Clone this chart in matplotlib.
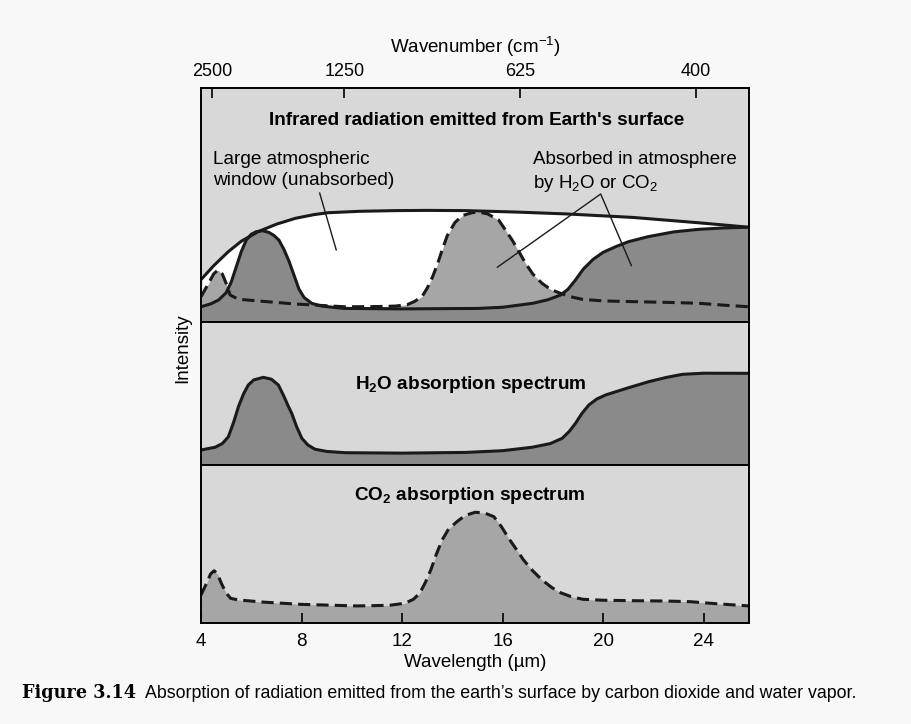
import matplotlib
matplotlib.use('agg')
import matplotlib.pyplot as plt

plt.rcParams['font.family'] = ['Liberation Sans', 'DejaVu Sans']
plt.rcParams['mathtext.fontset'] = 'custom'
plt.rcParams['mathtext.rm'] = 'Liberation Sans'
plt.rcParams['mathtext.bf'] = 'Liberation Sans:bold'
plt.rcParams['mathtext.it'] = 'Liberation Sans:italic'

# top panel: emitted radiation envelope (intensity, panel fraction)
env_um = [4.05, 4.5, 5.08, 5.6, 6.27, 7.0, 7.75, 8.5, 9.06, 10.3, 11.73, 13.0,
          14.52, 16.5, 18.5, 21.17, 23.8, 25.8]
env_val = [0.187, 0.24, 0.300, 0.345, 0.386, 0.418, 0.443, 0.459, 0.467, 0.473,
           0.476, 0.477, 0.476, 0.470, 0.462, 0.447, 0.424, 0.405]

# top panel: H2O absorption (solid)
h2o_top_um = [4.0, 4.4, 4.7, 5.0, 5.2, 5.4, 5.6, 5.8, 6.0, 6.2, 6.45, 6.7, 6.9,
              7.1, 7.3, 7.5, 7.7, 7.9, 8.1, 8.4, 8.8, 9.7, 12.0, 15.0, 16.0,
              17.2, 17.8, 18.3, 18.6, 18.9, 19.2, 19.6, 20.0, 20.5, 21.0, 21.8,
              22.8, 23.8, 24.8, 25.8]
h2o_top_val = [0.065, 0.078, 0.094, 0.125, 0.17, 0.235, 0.30, 0.35, 0.375,
               0.386, 0.390, 0.383, 0.37, 0.35, 0.31, 0.26, 0.20, 0.14, 0.105,
               0.08, 0.068, 0.058, 0.056, 0.058, 0.063, 0.080, 0.095, 0.115,
               0.14, 0.18, 0.225, 0.268, 0.298, 0.322, 0.343, 0.365, 0.385,
               0.396, 0.402, 0.405]

# top panel: CO2 absorption (dashed)
co2_top_um = [4.0, 4.3, 4.5, 4.67, 4.85, 5.0, 5.16, 5.5, 6.5, 7.75, 9.74, 11.0,
              11.73, 12.2, 12.5, 12.8, 13.0, 13.2, 13.4, 13.6, 13.8, 14.1, 14.4,
              14.78, 15.05, 15.4, 15.84, 16.1, 16.38, 16.65, 16.91, 17.2, 17.57,
              17.9, 18.24, 18.7, 19.17, 20.0, 21.16, 22.5, 23.81, 24.8, 25.8]
co2_top_val = [0.108, 0.165, 0.205, 0.222, 0.205, 0.165, 0.115, 0.097, 0.088,
               0.077, 0.065, 0.066, 0.068, 0.074, 0.088, 0.11, 0.145, 0.19,
               0.245, 0.31, 0.37, 0.425, 0.455, 0.467, 0.470, 0.462, 0.436,
               0.395, 0.350, 0.30, 0.251, 0.205, 0.165, 0.14, 0.125, 0.108,
               0.097, 0.09, 0.087, 0.084, 0.080, 0.072, 0.065]

# middle panel: H2O absorption spectrum
h2o_um = [4.0, 4.56, 4.85, 5.09, 5.3, 5.49, 5.7, 5.88, 6.1, 6.48, 6.8, 7.08,
          7.3, 7.45, 7.61, 7.8, 8.01, 8.25, 8.54, 9.0, 9.74, 12.0, 14.52, 16.0,
          17.17, 17.9, 18.37, 18.65, 18.9, 19.15, 19.43, 19.75, 20.1, 21.0,
          21.82, 22.5, 23.15, 24.0, 25.8]
h2o_val = [0.105, 0.124, 0.15, 0.198, 0.30, 0.408, 0.50, 0.559, 0.595, 0.613,
           0.60, 0.559, 0.48, 0.42, 0.361, 0.27, 0.187, 0.14, 0.110, 0.095,
           0.086, 0.083, 0.088, 0.10, 0.124, 0.15, 0.187, 0.235, 0.292, 0.36,
           0.420, 0.462, 0.490, 0.54, 0.583, 0.612, 0.634, 0.642, 0.641]

# bottom panel: CO2 absorption spectrum
co2_um = [4.0, 4.22, 4.38, 4.52, 4.66, 4.81, 5.0, 5.18, 5.48, 6.5, 7.98, 10.2,
          11.5, 12.11, 12.45, 12.7, 12.92, 13.14, 13.35, 13.59, 13.85, 14.18,
          14.5, 14.91, 15.3, 15.65, 15.95, 16.24, 16.55, 16.83, 17.2, 17.57,
          17.95, 18.3, 18.7, 19.19, 20.0, 21.25, 22.5, 23.46, 24.5, 25.8]
co2_val = [0.177, 0.251, 0.31, 0.331, 0.31, 0.251, 0.19, 0.156, 0.146, 0.132,
           0.118, 0.108, 0.112, 0.125, 0.15, 0.188, 0.255, 0.335, 0.43, 0.525,
           0.595, 0.641, 0.68, 0.701, 0.695, 0.673, 0.61, 0.536, 0.465, 0.399,
           0.33, 0.272, 0.225, 0.192, 0.168, 0.150, 0.144, 0.141, 0.139, 0.135,
           0.122, 0.108]

wl_ticks = [4, 8, 12, 16, 20, 24]
wn_tick_pos = [4.45, 9.7, 16.7, 23.7]
wn_tick_labels = ['2500', '1250', '625', '400']

bg = '#d8d8d8'
dark = '#8a8a8a'
mid = '#a6a6a6'
dash = (0, (4, 2))

fig = plt.figure(figsize=(9.12, 7.24), dpi=100, facecolor='#f8f8f8')
gs = fig.add_gridspec(3, 1, height_ratios=[234, 143, 158], hspace=0,
                      left=201/912, right=749/912, top=1-88/724, bottom=1-623/724)
ax1 = fig.add_subplot(gs[0])
ax2 = fig.add_subplot(gs[1])
ax3 = fig.add_subplot(gs[2])

for ax in (ax1, ax2, ax3):
    ax.set_facecolor(bg)
    ax.set_xlim(4, 25.8)
    ax.set_ylim(0, 1)
    ax.set_yticks([])
    for s in ax.spines.values():
        s.set_linewidth(1.4)

# Top panel
ax1.fill_between(env_um, 0, env_val, color='white', lw=0)
ax1.fill_between(co2_top_um, 0, co2_top_val, color=mid, lw=0)
ax1.fill_between(h2o_top_um, 0, h2o_top_val, color=dark, lw=0)
ax1.plot(co2_top_um, co2_top_val, color='#1a1a1a', lw=2.2, linestyle=dash)
ax1.plot(h2o_top_um, h2o_top_val, color='#1a1a1a', lw=2.2)
ax1.plot(env_um, env_val, color='#1a1a1a', lw=2.2)

ax1.xaxis.tick_top()
ax1.xaxis.set_label_position('top')
ax1.set_xticks(wn_tick_pos, wn_tick_labels)
ax1.tick_params(direction='in', length=7, width=1.2, labelsize=13, pad=6)
ax1.set_xlabel('Wavenumber (cm$^{-1}$)', fontsize=13.5, labelpad=7)

ax1.text(0.503, 0.863, "Infrared radiation emitted from Earth's surface",
         transform=ax1.transAxes, ha='center', va='center', fontsize=13.6,
         fontweight='bold')
ax1.text(0.022, 0.65, 'Large atmospheric\nwindow (unabsorbed)',
         transform=ax1.transAxes, ha='left', va='center', fontsize=13.7,
         linespacing=1.35)
ax1.text(0.606, 0.64, 'Absorbed in atmosphere\nby H$_2$O or CO$_2$',
         transform=ax1.transAxes, ha='left', va='center', fontsize=13.5,
         linespacing=1.35)
ax1.plot([8.72, 9.38], [0.551, 0.308], color='#1a1a1a', lw=1)
ax1.plot([15.79, 19.9, 21.12], [0.234, 0.547, 0.241], color='#1a1a1a', lw=1)

# Middle panel
ax2.fill_between(h2o_um, 0, h2o_val, color=dark, lw=0)
ax2.plot(h2o_um, h2o_val, color='#1a1a1a', lw=2.2)
ax2.set_xticks([])
ax2.text(0.493, 0.56, r'H$_\mathbf{2}$O absorption spectrum',
         transform=ax2.transAxes, ha='center', va='center', fontsize=13.7,
         fontweight='bold')

# Bottom panel
ax3.fill_between(co2_um, 0, co2_val, color=mid, lw=0)
ax3.plot(co2_um, co2_val, color='#1a1a1a', lw=2.2, linestyle=dash)
ax3.set_xticks(wl_ticks)
ax3.tick_params(direction='in', length=7, width=1.2, labelsize=13.5, pad=7)
ax3.set_xlabel('Wavelength (\u00b5m)', fontsize=13.5, labelpad=3)
ax3.text(0.49, 0.81, r'CO$_\mathbf{2}$ absorption spectrum',
         transform=ax3.transAxes, ha='center', va='center', fontsize=13.7,
         fontweight='bold')

fig.text(183/912, 1-348/724, 'Intensity', rotation=90, ha='center',
         va='center', fontsize=13.5)

fig.text(22/912, 1-693/724, 'Figure 3.14', fontsize=12.7, fontweight='bold',
         family=['DejaVu Serif'], ha='left', va='center')
fig.text(145/912, 1-693/724,
         'Absorption of radiation emitted from the earth\u2019s surface by '
         'carbon dioxide and water vapor.', fontsize=12.8,
         family=['Liberation Sans', 'DejaVu Sans'], ha='left', va='center')

fig.savefig('out.png', dpi=100, facecolor=fig.get_facecolor())
